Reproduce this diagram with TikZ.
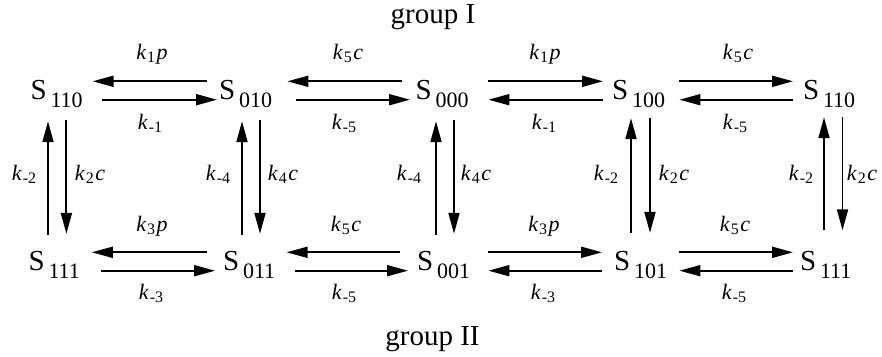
\documentclass[tikz,border=0pt]{standalone}
\usepackage{fontspec}
\setmainfont{Liberation Serif}
\usetikzlibrary{arrows.meta}
\newcommand{\Sst}[1]{S\hspace{3.7pt}\raisebox{-8pt}{\fontsize{22}{22}\selectfont #1}}
\newcommand{\rk}[2]{\textit{k}\hspace{0.8pt}\raisebox{-3.5pt}{\fontsize{16}{16}\selectfont #1}\hspace{1.5pt}#2}
\begin{document}
\begin{tikzpicture}[x=1pt,y=-1pt,
  snode/.style={inner sep=0pt, anchor=base west, text height=17.5pt, text depth=0.5pt, font=\fontsize{29}{29}\selectfont},
  lab/.style={inner sep=0pt, anchor=base, font=\fontsize{22}{22}\selectfont},
  grp/.style={inner sep=0pt, anchor=base, font=\fontsize{29}{29}\selectfont},
  arr/.style={line width=1.9pt, -{Triangle[length=21pt,width=11pt]}}]
\useasboundingbox (0,0) rectangle (882,356);
% states
\node[snode] (S110a) at (30.5,99) {\Sst{110}};
\node[snode] (S010) at (219,99) {\Sst{010}};
\node[snode] (S000) at (415.5,99) {\Sst{000}};
\node[snode] (S100) at (612,99) {\Sst{100}};
\node[snode] (S110b) at (803,99) {\Sst{110}};
\node[snode] (S111a) at (28.5,270) {\Sst{111}};
\node[snode] (S011) at (223,270) {\Sst{011}};
\node[snode] (S001) at (417,270) {\Sst{001}};
\node[snode] (S101) at (614,270) {\Sst{101}};
\node[snode] (S111b) at (800,270) {\Sst{111}};
% top row arrows
\draw[arr] ([xshift=-12pt]S010.north west) -- ([xshift=9.7pt]S110a.north east);
\draw[arr] ([xshift=18.7pt]S110a.south east) -- ([xshift=-2pt]S010.south west);
\draw[arr] ([xshift=-13.5pt]S000.north west) -- ([xshift=15.2pt]S010.north east);
\draw[arr] ([xshift=24.2pt]S010.south east) -- ([xshift=-5.5pt]S000.south west);
\draw[arr] ([xshift=19.7pt]S000.north east) -- ([xshift=-9pt]S100.north west);
\draw[arr] ([xshift=-9pt]S100.south west) -- ([xshift=19.7pt]S000.south east);
\draw[arr] ([xshift=14.2pt]S100.north east) -- ([xshift=-10pt]S110b.north west);
\draw[arr] ([xshift=-10pt]S110b.south west) -- ([xshift=14.2pt]S100.south east);
% bottom row arrows
\draw[arr] ([xshift=-16pt]S011.north west) -- ([xshift=11.7pt]S111a.north east);
\draw[arr] ([xshift=20.7pt]S111a.south east) -- ([xshift=-8pt]S011.south west);
\draw[arr] ([xshift=-17pt]S001.north west) -- ([xshift=11.2pt]S011.north east);
\draw[arr] ([xshift=19.2pt]S011.south east) -- ([xshift=-9pt]S001.south west);
\draw[arr] ([xshift=18.2pt]S001.north east) -- ([xshift=-12pt]S101.north west);
\draw[arr] ([xshift=-12pt]S101.south west) -- ([xshift=18.2pt]S001.south east);
\draw[arr] ([xshift=12.2pt]S101.north east) -- ([xshift=-7pt]S111b.north west);
\draw[arr] ([xshift=-7pt]S111b.south west) -- ([xshift=12.2pt]S101.south east);
% vertical arrows
\draw[arr] ([xshift=19.5pt,yshift=17.5pt]S111a.north west) -- ([xshift=17.5pt,yshift=-21.5pt]S110a.south west);
\draw[arr] ([xshift=35.9pt,yshift=-20.5pt]S110a.south west) -- ([xshift=37.9pt,yshift=18.5pt]S111a.north west);
\draw[arr] ([xshift=19pt,yshift=17.5pt]S011.north west) -- ([xshift=23pt,yshift=-21.5pt]S010.south west);
\draw[arr] ([xshift=41pt,yshift=-20.5pt]S010.south west) -- ([xshift=37pt,yshift=18.5pt]S011.north west);
\draw[arr] ([xshift=19pt,yshift=17.5pt]S001.north west) -- ([xshift=20.5pt,yshift=-21.5pt]S000.south west);
\draw[arr] ([xshift=38.5pt,yshift=-20.5pt]S000.south west) -- ([xshift=37pt,yshift=18.5pt]S001.north west);
\draw[arr] ([xshift=17pt,yshift=19.5pt]S101.north west) -- ([xshift=19pt,yshift=-18.5pt]S100.south west);
\draw[arr] ([xshift=38pt,yshift=-18.5pt]S100.south west) -- ([xshift=36pt,yshift=19.5pt]S101.north west);
\draw[arr] ([xshift=24pt,yshift=22pt]S111b.north west) -- ([xshift=21pt,yshift=-17.5pt]S110b.south west);
\draw[arr] ([xshift=39.5pt,yshift=-17.5pt]S110b.south west) -- ([xshift=42.5pt,yshift=22pt]S111b.north west);
% rate labels, top row
\node[lab] (l1) at (152,59) {\rk{1}{\textit{p}}};
\node[lab] (l2) at (348,59) {\rk{5}{\textit{c}}};
\node[lab] (l3) at (545,59) {\rk{1}{\textit{p}}};
\node[lab] (l4) at (738,59) {\rk{5}{\textit{c}}};
\node[lab] (l5) at (150,129) {\rk{-1}{}};
\node[lab] (l6) at (344,129) {\rk{-5}{}};
\node[lab] (l7) at (544,129) {\rk{-1}{}};
\node[lab] (l8) at (735,129) {\rk{-5}{}};
% rate labels, bottom row
\node[lab] (l9) at (152,231) {\rk{3}{\textit{p}}};
\node[lab] (l10) at (346,231) {\rk{5}{\textit{c}}};
\node[lab] (l11) at (544,231) {\rk{3}{\textit{p}}};
\node[lab] (l12) at (735,231) {\rk{5}{\textit{c}}};
\node[lab] (l13) at (151,299) {\rk{-3}{}};
\node[lab] (l14) at (344,299) {\rk{-5}{}};
\node[lab] (l15) at (543,299) {\rk{-3}{}};
\node[lab] (l16) at (734,299) {\rk{-5}{}};
% rate labels, verticals
\node[lab] (v1) at (24,180) {\rk{-2}{}};
\node[lab] (v2) at (90,180) {\rk{2}{\textit{c}}};
\node[lab] (v3) at (218,180) {\rk{-4}{}};
\node[lab] (v4) at (283,180) {\rk{4}{\textit{c}}};
\node[lab] (v5) at (409,180) {\rk{-4}{}};
\node[lab] (v6) at (476,180) {\rk{4}{\textit{c}}};
\node[lab] (v7) at (606,180) {\rk{-2}{}};
\node[lab] (v8) at (674,180) {\rk{2}{\textit{c}}};
\node[lab] (v9) at (801,180) {\rk{-2}{}};
\node[lab] (v10) at (862,180) {\rk{2}{\textit{c}}};
% groups
\node[grp] (g1) at (433,23) {group I};
\node[grp] (g2) at (432.5,345) {group II};
\end{tikzpicture}
\end{document}
